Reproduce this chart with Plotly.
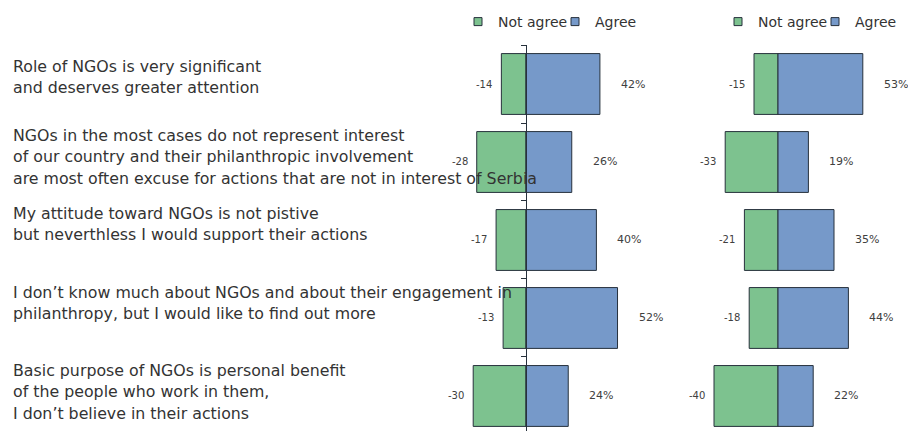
import plotly.graph_objects as go

# Survey statements (top to bottom) and answer shares for the two groups
statements = [
    ["Role of NGOs is very significant",
     "and deserves greater attention"],
    ["NGOs in the most cases do not represent interest",
     "of our country and their philanthropic involvement",
     "are most often excuse for actions that are not in interest of Serbia"],
    ["My attitude toward NGOs is not pistive",
     "but neverthless I would support their actions"],
    ["I don\u2019t know much about NGOs and about their engagement in",
     "philanthropy, but I would like to find out more"],
    ["Basic purpose of NGOs is personal benefit",
     "of the people who work in them,",
     "I don\u2019t believe in their actions"],
]
left_not_agree = [-14, -28, -17, -13, -30]
left_agree = [42, 26, 40, 52, 24]
right_not_agree = [-15, -33, -21, -18, -40]
right_agree = [53, 19, 35, 44, 22]

W, H = 908, 431
GREEN = "#7dc28f"
BLUE = "#7699c9"
EDGE = "#27313c"
TXT = "#404040"
FONT = "DejaVu Sans"

pos = list(range(len(statements)))

# panel geometry (pixels -> paper fractions)
top_px = 45
ydom = [0, 1 - top_px / H]
yrange = [4.449, -0.5]
left_dom_px, left_zero_px, left_scale = (440, 680), 526, 1.76
right_dom_px, right_zero_px, right_scale = (690, 906), 778, 1.60


def xrange_for(dom_px, zero_px, scale):
    return [(dom_px[0] - zero_px) / scale, (dom_px[1] - zero_px) / scale]


left_xr = xrange_for(left_dom_px, left_zero_px, left_scale)
right_xr = xrange_for(right_dom_px, right_zero_px, right_scale)
left_xd = [left_dom_px[0] / W, left_dom_px[1] / W]
right_xd = [right_dom_px[0] / W, right_dom_px[1] / W]

fig = go.Figure()

bar_style = dict(orientation="h", width=0.78, showlegend=False,
                 hoverinfo="skip")
fig.add_trace(go.Bar(x=left_not_agree, y=pos, marker=dict(color=GREEN, line=dict(color=EDGE, width=1)),
                     xaxis="x", yaxis="y", **bar_style))
fig.add_trace(go.Bar(x=left_agree, y=pos, marker=dict(color=BLUE, line=dict(color=EDGE, width=1)),
                     xaxis="x", yaxis="y", **bar_style))
fig.add_trace(go.Bar(x=right_not_agree, y=pos, marker=dict(color=GREEN, line=dict(color=EDGE, width=1)),
                     xaxis="x2", yaxis="y2", **bar_style))
fig.add_trace(go.Bar(x=right_agree, y=pos, marker=dict(color=BLUE, line=dict(color=EDGE, width=1)),
                     xaxis="x2", yaxis="y2", **bar_style))

# legend entries with small square swatches
for lg in ["legend", "legend2"]:
    for name, col in [("Not agree", GREEN), ("Agree", BLUE)]:
        fig.add_trace(go.Scatter(x=[None], y=[None], mode="markers", name=name,
                                 marker=dict(symbol="square", size=8, color=col,
                                             line=dict(color=EDGE, width=1)),
                                 legend=lg, xaxis="x", yaxis="y"))

annotations = []
# value labels
for xa, neg, posv in [("x", left_not_agree, left_agree), ("x2", right_not_agree, right_agree)]:
    ya = "y" if xa == "x" else "y2"
    for i in pos:
        annotations.append(dict(x=neg[i], y=i, xref=xa, yref=ya, text=str(neg[i]),
                                showarrow=False, xanchor="right", xshift=-7,
                                font=dict(family=FONT, size=10, color=TXT)))
        annotations.append(dict(x=posv[i], y=i, xref=xa, yref=ya, text=f"{posv[i]}%",
                                showarrow=False, xanchor="left", xshift=19,
                                font=dict(family=FONT, size=11, color=TXT)))

# statement text, one annotation per line
label_shift = [7, 5, 16, 15, 4]
line_gap = 21.7
for i, lines in enumerate(statements):
    n = len(lines)
    for j, line in enumerate(lines):
        annotations.append(dict(x=11 / W, y=i, xref="paper", yref="y", text=line,
                                showarrow=False, xanchor="left", yanchor="middle",
                                yshift=label_shift[i] - (j - (n - 1) / 2) * line_gap,
                                font=dict(family=FONT, size=15.8, color="#333333")))

left_axis_pos = left_xd[0] + (0 - left_xr[0]) / (left_xr[1] - left_xr[0]) * (left_xd[1] - left_xd[0])

legend_style = dict(orientation="h", xanchor="left", yanchor="top",
                    entrywidth=52, entrywidthmode="pixels",
                    font=dict(family=FONT, size=14, color="#333333"),
                    bgcolor="rgba(0,0,0,0)")

fig.update_layout(
    width=W, height=H,
    margin=dict(l=0, r=0, t=0, b=0, autoexpand=False),
    paper_bgcolor="white", plot_bgcolor="rgba(0,0,0,0)",
    barmode="relative",
    xaxis=dict(domain=left_xd, range=left_xr, visible=False),
    xaxis2=dict(domain=right_xd, range=right_xr, visible=False),
    yaxis=dict(domain=ydom, range=yrange, anchor="free", position=left_axis_pos,
               showline=True, linecolor=EDGE, linewidth=1, ticks="outside", ticklen=5,
               tickcolor=EDGE, tickvals=[-0.5, 0.5, 1.5, 2.5, 3.5], showticklabels=False,
               showgrid=False, zeroline=False),
    yaxis2=dict(domain=ydom, range=yrange, anchor="x2", visible=False),
    legend=dict(x=458 / W, y=1 - 6 / H, **legend_style),
    legend2=dict(x=718 / W, y=1 - 6 / H, **legend_style),
    annotations=annotations,
    showlegend=True,
)

fig.write_html("out.html")
